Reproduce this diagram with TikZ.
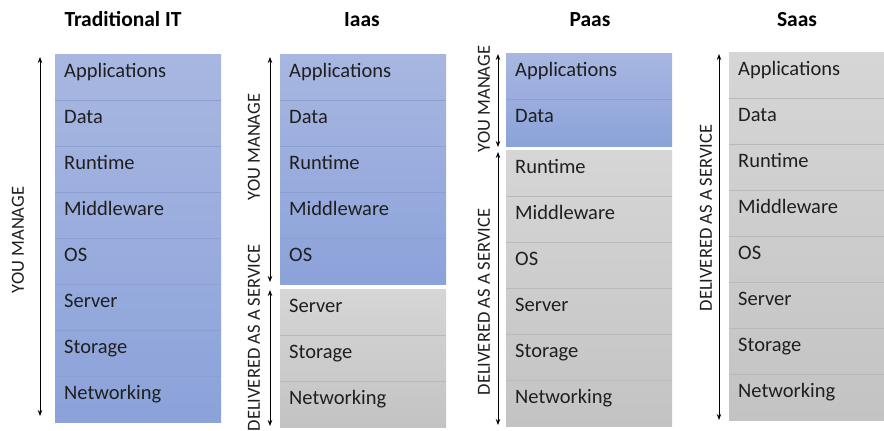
\documentclass[tikz,border=0pt]{standalone}
\usepackage{fontspec}
\setmainfont{Carlito}
\usetikzlibrary{arrows.meta}
\definecolor{bluetop}{HTML}{A8B7E1}
\definecolor{bluebot}{HTML}{8BA2DA}
\definecolor{bluesep}{HTML}{8C9FD0}
\definecolor{graytop}{HTML}{D6D6D6}
\definecolor{graybot}{HTML}{C3C3C3}
\definecolor{graysep}{HTML}{B9B9B9}
\definecolor{txt}{HTML}{1F1F1F}
\begin{document}
\begin{tikzpicture}[x=1pt,y=-1pt,
  layer/.style={anchor=base west, inner sep=0pt, font=\fontsize{20.5}{24}\selectfont, text=txt},
  title/.style={anchor=base, inner sep=0pt, font=\bfseries\fontsize{21.5}{25}\selectfont},
  side/.style={rotate=90, inner sep=0pt, font=\fontsize{18.5}{22}\selectfont, text=txt},
  both/.style={{Stealth[length=6pt,width=4.5pt]}-{Stealth[length=6pt,width=4.5pt]}, line width=0.9pt},
  blueblock/.style={top color=bluetop, bottom color=bluebot, draw=none},
  grayblock/.style={top color=graytop, bottom color=graybot, draw=none},
  bsep/.style={draw=bluesep, line width=0.6pt},
  gsep/.style={draw=graysep, line width=0.6pt}]
\useasboundingbox[fill=white] (0,0) rectangle (884,431);

% titles
\node[title] (h1) at (123,26.5) {Traditional IT};
\node[title] (h2) at (362,26.5) {Iaas};
\node[title] (h3) at (590,26.5) {Paas};
\node[title] (h4) at (797,26.5) {Saas};

% ---------- Traditional IT ----------
\path[blueblock] (55,54) rectangle (221,422);
\foreach \k in {1,...,7} \draw[bsep] (55,54+46*\k) -- (221,54+46*\k);
\foreach \t [count=\i from 0] in {Applications,Data,Runtime,Middleware,OS,Server,Storage,Networking}
  \node[layer] (a\i) at (64,54+46*\i+23.5) {\t};
\coordinate (aTop) at (40,57);
\coordinate (aBot) at (40,416);
\draw[both] (aTop) -- (aBot);
\node[side] (aLab) at (18,240) {YOU MANAGE};

% ---------- Iaas ----------
\path[blueblock] (280,54) rectangle (446,284);
\foreach \k in {1,...,4} \draw[bsep] (280,54+46*\k) -- (446,54+46*\k);
\foreach \t [count=\i from 0] in {Applications,Data,Runtime,Middleware,OS}
  \node[layer] (b\i) at (289,54+46*\i+23.5) {\t};
\path[grayblock] (280,289) rectangle (446,427);
\foreach \k in {1,2} \draw[gsep] (280,289+46*\k) -- (446,289+46*\k);
\foreach \t [count=\i from 0] in {Server,Storage,Networking}
  \node[layer] (c\i) at (289,289+46*\i+23.5) {\t};
\coordinate (bTop) at (270,57);
\coordinate (bBot) at (270,282);
\draw[both] (bTop) -- (bBot);
\node[side] (bLab) at (254,147) {YOU MANAGE};
\coordinate (cTop) at (270,290);
\coordinate (cBot) at (270,426);
\draw[both] (cTop) -- (cBot);
\node[side] (cLab) at (254,338) {DELIVERED AS A SERVICE};

% ---------- Paas ----------
\path[blueblock] (506,53) rectangle (672,146);
\draw[bsep] (506,99) -- (672,99);
\foreach \t [count=\i from 0] in {Applications,Data}
  \node[layer] (d\i) at (515,53+46*\i+23.5) {\t};
\path[grayblock] (506,150) rectangle (672,426);
\foreach \k in {1,...,5} \draw[gsep] (506,150+46*\k) -- (672,150+46*\k);
\foreach \t [count=\i from 0] in {Runtime,Middleware,OS,Server,Storage,Networking}
  \node[layer] (e\i) at (515,150+46*\i+23.5) {\t};
\coordinate (dTop) at (498,54);
\coordinate (dBot) at (498,147);
\draw[both] (dTop) -- (dBot);
\node[side] (dLab) at (484,99) {YOU MANAGE};
\coordinate (eTop) at (498,152);
\coordinate (eBot) at (498,425);
\draw[both] (eTop) -- (eBot);
\node[side] (eLab) at (484,302) {DELIVERED AS A SERVICE};

% ---------- Saas ----------
\path[grayblock] (729,52) rectangle (884,420);
\foreach \k in {1,...,7} \draw[gsep] (729,52+46*\k) -- (884,52+46*\k);
\foreach \t [count=\i from 0] in {Applications,Data,Runtime,Middleware,OS,Server,Storage,Networking}
  \node[layer] (f\i) at (738,52+46*\i+23.5) {\t};
\coordinate (fTop) at (719,54);
\coordinate (fBot) at (719,420);
\draw[both] (fTop) -- (fBot);
\node[side] (fLab) at (706,218) {DELIVERED AS A SERVICE};
\end{tikzpicture}
\end{document}
